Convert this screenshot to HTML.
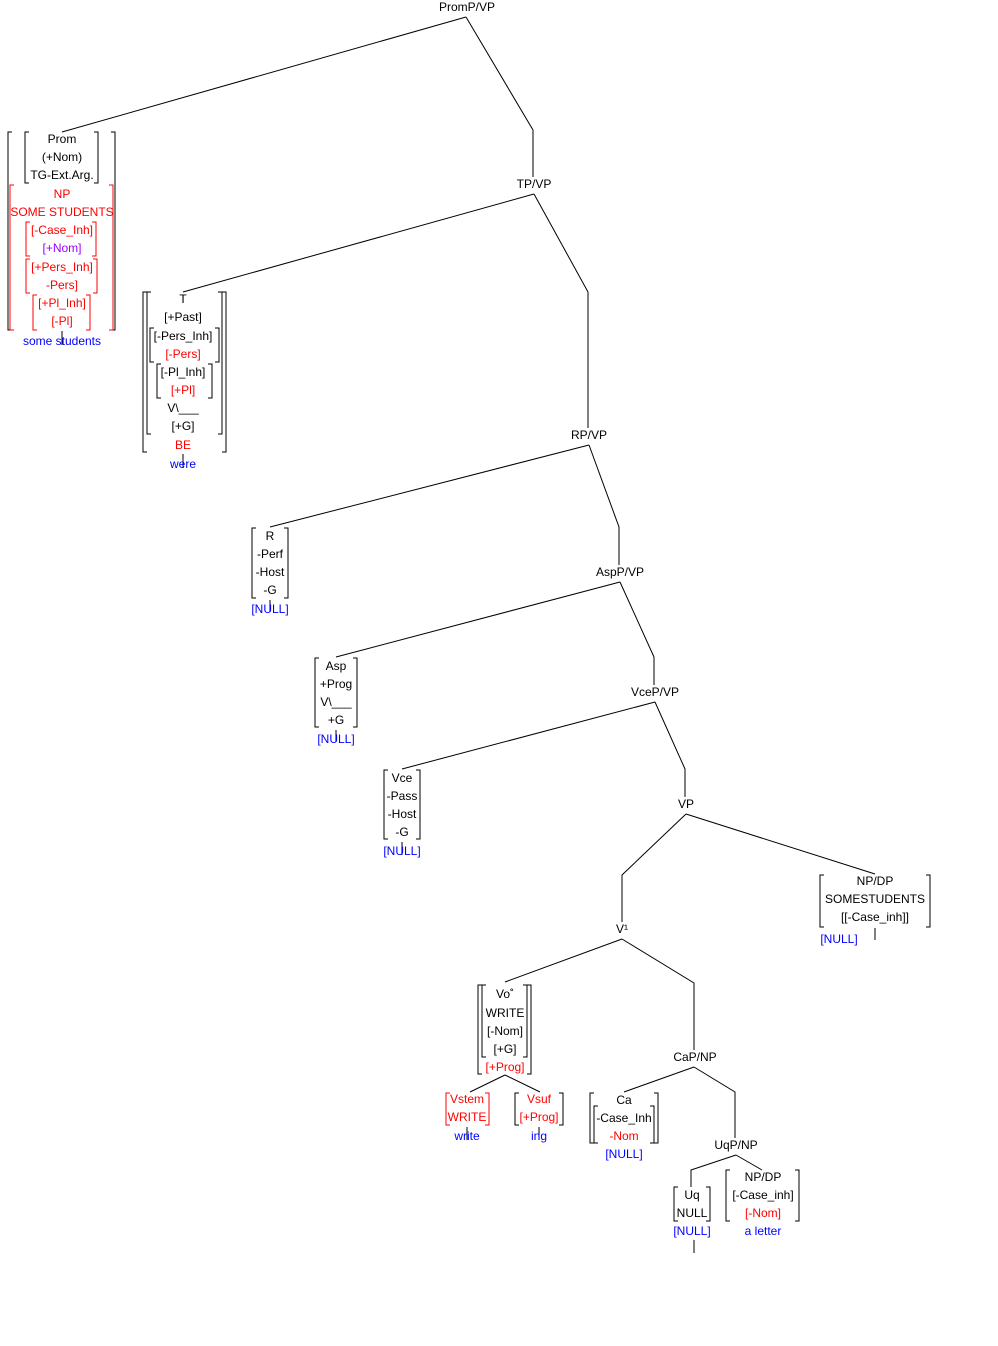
<!DOCTYPE html>
<html><head><meta charset="utf-8"><style>
html,body{margin:0;padding:0;background:#fff}
svg{display:block}
text{font-family:"Liberation Sans",sans-serif;font-size:12px;text-anchor:middle}
.r{fill:#f00}.b{fill:#00f}.p{fill:#90f}
</style></head><body>
<svg width="998" height="1346" xmlns="http://www.w3.org/2000/svg">
<g stroke="#000" stroke-width="1" fill="none">
<!-- tree edges -->
<path d="M466 17 L62 132 M466 17 L533 130 V177"/>
<path d="M534 194 L183 292 M534 194 L588 292 V428"/>
<path d="M589 445 L270 527 M589 445 L619 527 V565"/>
<path d="M620 582 L336 657 M620 582 L654 657 V685"/>
<path d="M655 702 L402 769 M655 702 L685 769 V797"/>
<path d="M686 814 L622 875 V922 M686 814 L875 874"/>
<path d="M622 939 L505 982 M622 939 L694 983 V1050"/>
<path d="M505 1075 L470 1092 M505 1075 L540 1092"/>
<path d="M694 1067 L624 1092 M694 1067 L735 1092 V1138"/>
<path d="M736 1155 L691 1170 V1187 M736 1155 L762 1170"/>
<!-- ticks -->
<path d="M62 331 V345 M183 454 V468 M270 600 V612 M336 730 V742 M402 842 V855 M875 928 V940 M467 1127 V1140 M539 1127 V1140 M694 1240 V1253"/>
<!-- brackets black -->
<path d="M12 132 H8 V330 H12 M111 132 H115 V330 H111"/>
<path d="M29 132 H25 V183 H29 M94 132 H98 V183 H94"/>
<path d="M147 292 H143 V452 H147 M222 292 H226 V452 H222"/>
<path d="M151 292 H147 V434 H151 M218 292 H222 V434 H218"/>
<path d="M154 328 H150 V362 H154 M215 328 H219 V362 H215"/>
<path d="M161 364 H157 V398 H161 M208 364 H212 V398 H208"/>
<path d="M256 528 H252 V598 H256 M284 528 H288 V598 H284"/>
<path d="M319 658 H315 V727 H319 M353 658 H357 V727 H353"/>
<path d="M388 770 H384 V839 H388 M416 770 H420 V839 H416"/>
<path d="M824 875 H820 V927 H824 M926 875 H930 V927 H926"/>
<path d="M482 985 H478 V1074 H482 M527 985 H531 V1074 H527"/>
<path d="M486 985 H482 V1057 H486 M523 985 H527 V1057 H523"/>
<path d="M519 1093 H515 V1125 H519 M559 1093 H563 V1125 H559"/>
<path d="M594 1093 H590 V1143 H594 M654 1093 H658 V1143 H654"/>
<path d="M598 1106 H594 V1143 H598 M650 1106 H654 V1143 H650"/>
<path d="M678 1187 H674 V1221 H678 M706 1187 H710 V1221 H706"/>
<path d="M730 1170 H726 V1221 H730 M795 1170 H799 V1221 H795"/>
</g>
<g stroke="#f00" stroke-width="1" fill="none">
<path d="M14 185 H10 V330 H14 M109 185 H113 V330 H109"/>
<path d="M30 222 H26 V256 H30 M92 222 H96 V256 H92"/>
<path d="M30 259 H26 V293 H30 M93 259 H97 V293 H93"/>
<path d="M37 295 H33 V330 H37 M86 295 H90 V330 H86"/>
<path d="M450 1093 H446 V1125 H450 M485 1093 H489 V1125 H485"/>
</g>
<text x="467" y="11">PromP/VP</text>
<text x="62" y="143">Prom</text>
<text x="62" y="161">(+Nom)</text>
<text x="62" y="179">TG-Ext.Arg.</text>
<text x="62" y="198" class="r">NP</text>
<text x="62" y="216" class="r">SOME STUDENTS</text>
<text x="62" y="234" class="r">[-Case_Inh]</text>
<text x="62" y="252" class="p">[+Nom]</text>
<text x="62" y="271" class="r">[+Pers_Inh]</text>
<text x="62" y="289" class="r">-Pers]</text>
<text x="62" y="307" class="r">[+Pl_Inh]</text>
<text x="62" y="325" class="r">[-Pl]</text>
<text x="62" y="345" class="b">some students</text>
<text x="534" y="188">TP/VP</text>
<text x="183" y="303">T</text>
<text x="183" y="321">[+Past]</text>
<text x="183" y="340">[-Pers_Inh]</text>
<text x="183" y="358" class="r">[-Pers]</text>
<text x="183" y="376">[-Pl_Inh]</text>
<text x="183" y="394" class="r">[+Pl]</text>
<text x="183" y="412">V\___</text>
<text x="183" y="430">[+G]</text>
<text x="183" y="449" class="r">BE</text>
<text x="183" y="468" class="b">were</text>
<text x="589" y="439">RP/VP</text>
<text x="270" y="540">R</text>
<text x="270" y="558">-Perf</text>
<text x="270" y="576">-Host</text>
<text x="270" y="594">-G</text>
<text x="270" y="613" class="b">[NULL]</text>
<text x="620" y="576">AspP/VP</text>
<text x="336" y="670">Asp</text>
<text x="336" y="688">+Prog</text>
<text x="336" y="706">V\___</text>
<text x="336" y="724">+G</text>
<text x="336" y="743" class="b">[NULL]</text>
<text x="655" y="696">VceP/VP</text>
<text x="402" y="782">Vce</text>
<text x="402" y="800">-Pass</text>
<text x="402" y="818">-Host</text>
<text x="402" y="836">-G</text>
<text x="402" y="855" class="b">[NULL]</text>
<text x="686" y="808">VP</text>
<text x="875" y="885">NP/DP</text>
<text x="875" y="903">SOMESTUDENTS</text>
<text x="875" y="921">[[-Case_inh]]</text>
<text x="839" y="943" class="b">[NULL]</text>
<text x="622" y="933">V¹</text>
<text x="505" y="998">Vo˚</text>
<text x="505" y="1017">WRITE</text>
<text x="505" y="1035">[-Nom]</text>
<text x="505" y="1053">[+G]</text>
<text x="505" y="1071" class="r">[+Prog]</text>
<text x="467" y="1103" class="r">Vstem</text>
<text x="467" y="1121" class="r">WRITE</text>
<text x="467" y="1140" class="b">write</text>
<text x="539" y="1103" class="r">Vsuf</text>
<text x="539" y="1121" class="r">[+Prog]</text>
<text x="539" y="1140" class="b">ing</text>
<text x="695" y="1061">CaP/NP</text>
<text x="624" y="1104">Ca</text>
<text x="624" y="1122">-Case_Inh</text>
<text x="624" y="1140" class="r">-Nom</text>
<text x="624" y="1158" class="b">[NULL]</text>
<text x="736" y="1149">UqP/NP</text>
<text x="692" y="1199">Uq</text>
<text x="692" y="1217">NULL</text>
<text x="692" y="1235" class="b">[NULL]</text>
<text x="763" y="1181">NP/DP</text>
<text x="763" y="1199">[-Case_inh]</text>
<text x="763" y="1217" class="r">[-Nom]</text>
<text x="763" y="1235" class="b">a letter</text>
</svg>
</body></html>
